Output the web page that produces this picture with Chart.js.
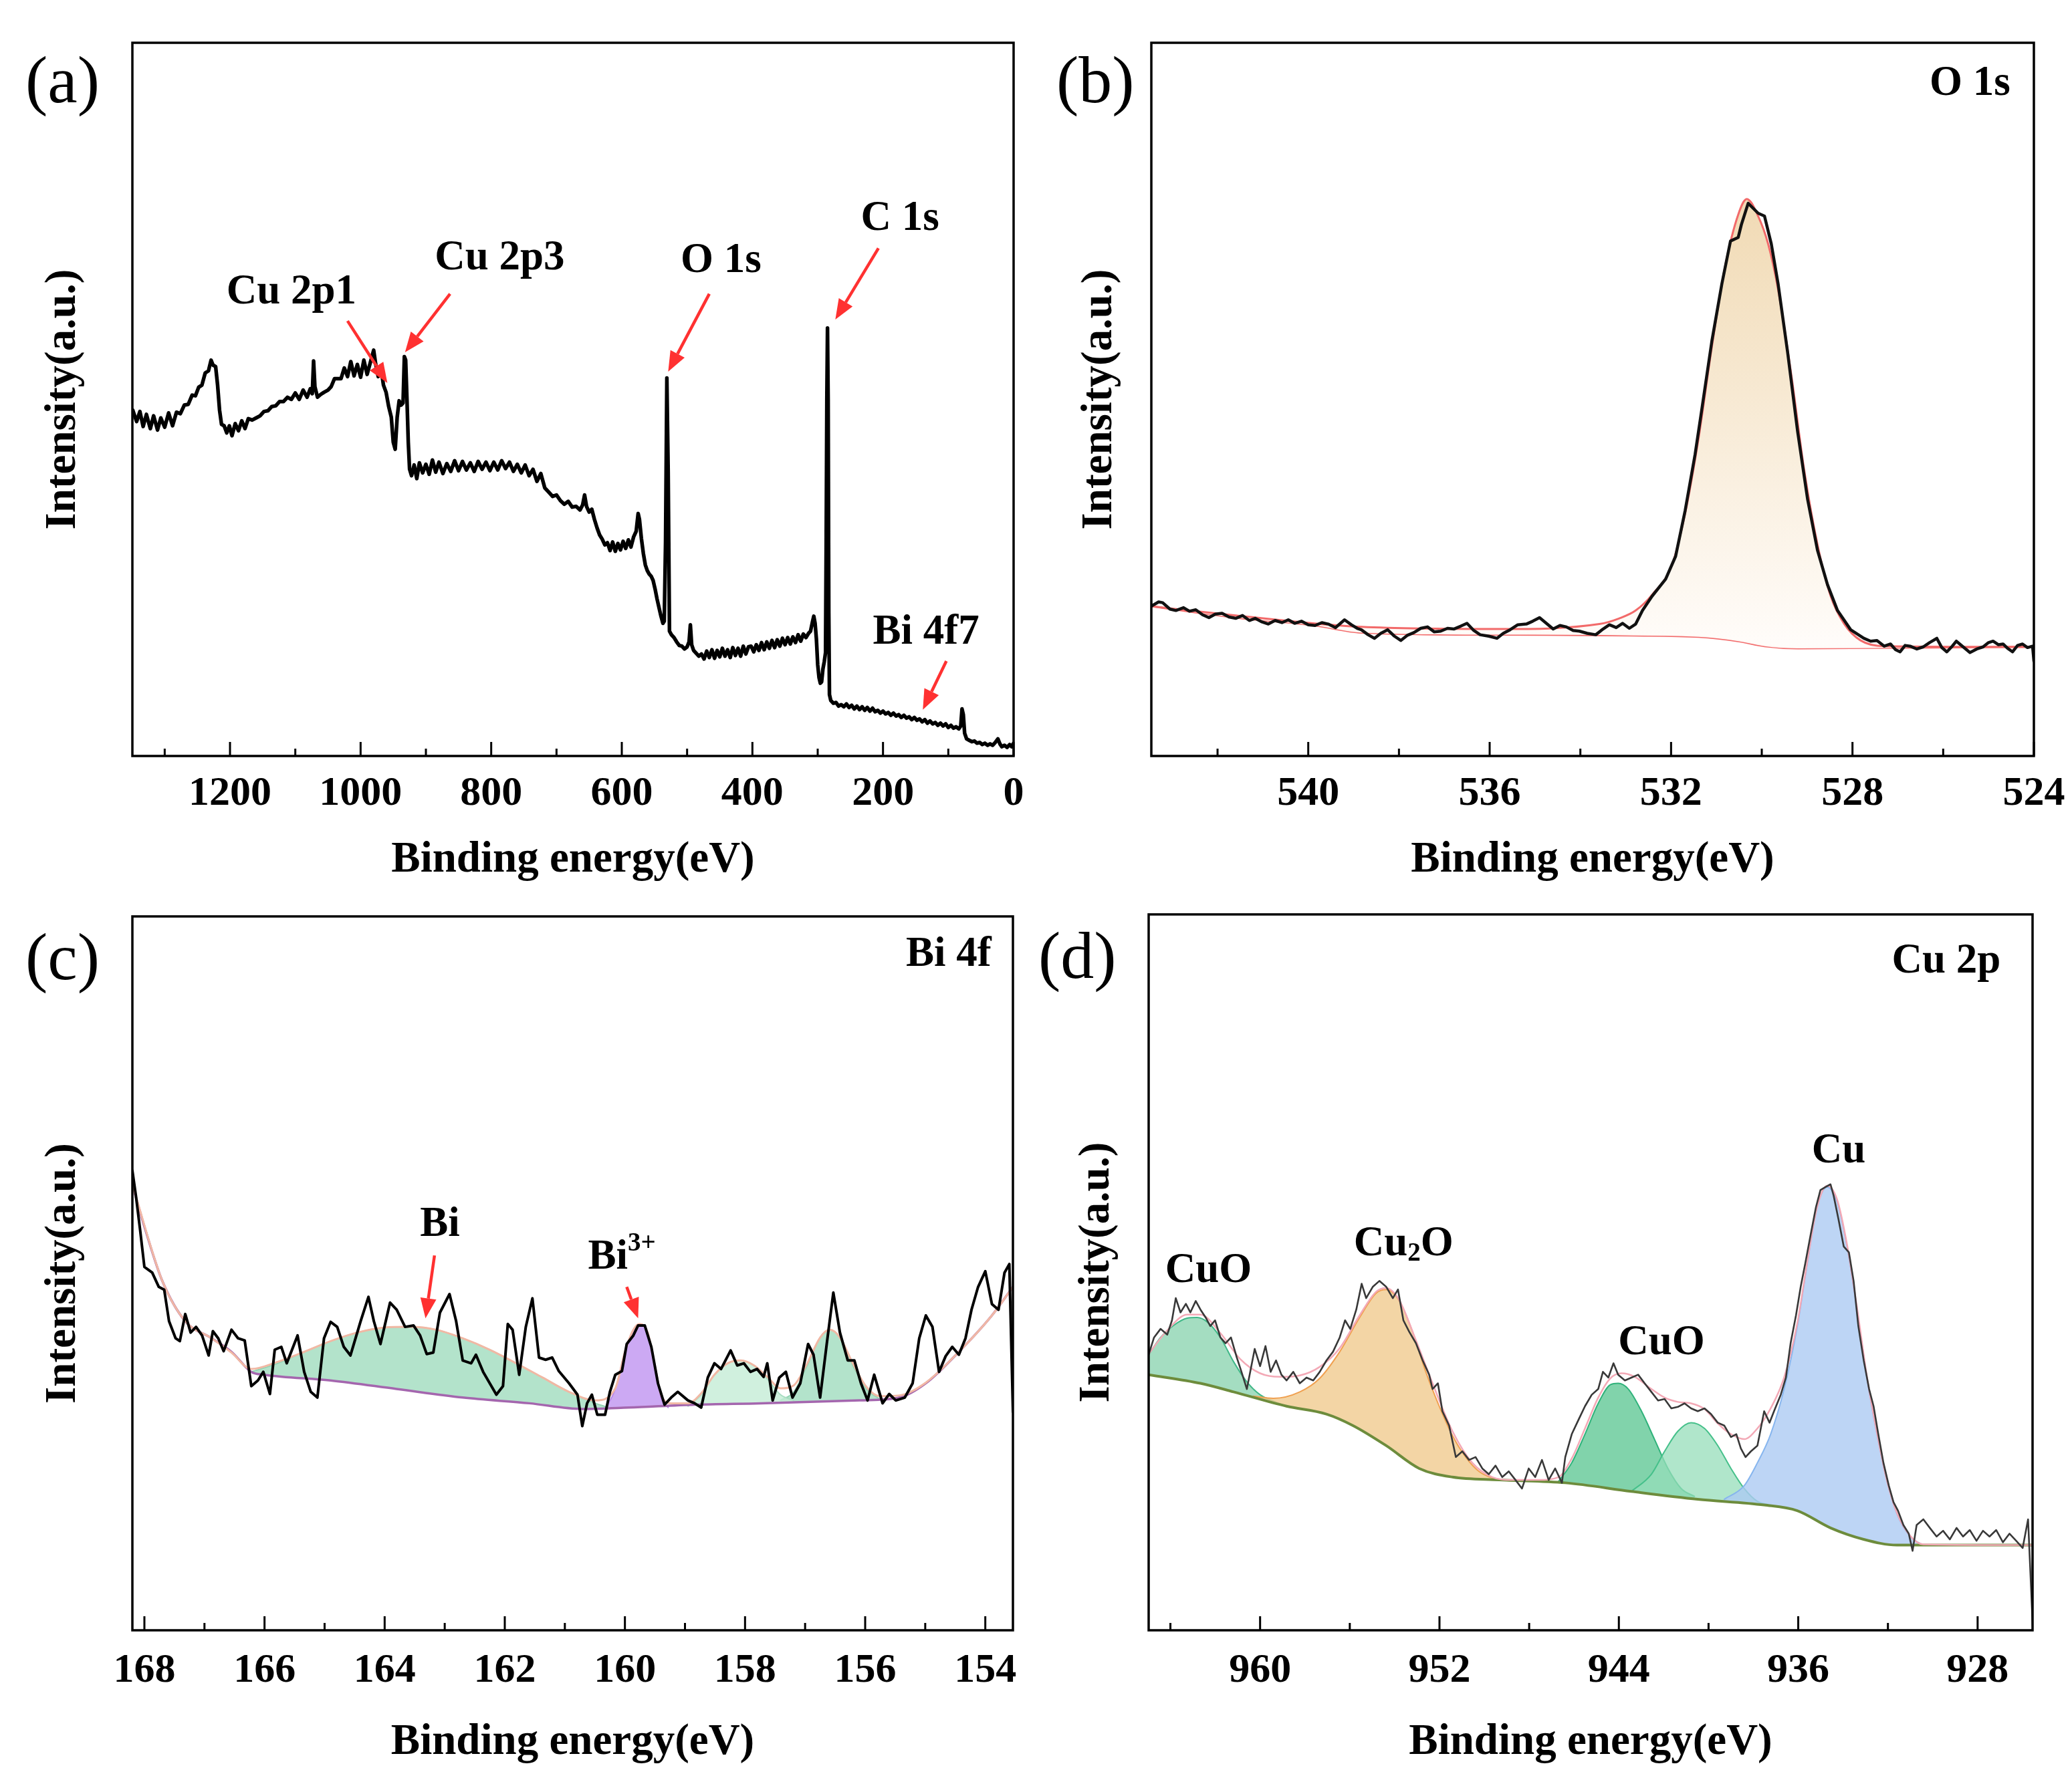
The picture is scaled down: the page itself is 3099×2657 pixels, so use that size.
<!DOCTYPE html>
<html>
<head>
<meta charset="utf-8">
<script src="https://cdn.jsdelivr.net/npm/chart.js@4.4.1/dist/chart.umd.min.js"></script>
<style>
  body { margin: 0; background: #fff; }
  #fig { position: relative; width: 3099px; height: 2657px; background: #fff; }
  .panel { position: absolute; }
  .tag { position: absolute; font: 100px/100px 'Liberation Serif', 'Times New Roman', serif; color: #000; }
</style>
</head>
<body>
<div id="fig">
  <div class="panel" style="left:50px;top:0;width:1499px;height:1330px"><canvas id="chartA"></canvas></div>
  <div class="panel" style="left:1600px;top:0;width:1499px;height:1330px"><canvas id="chartB"></canvas></div>
  <div class="panel" style="left:50px;top:1330px;width:1499px;height:1327px"><canvas id="chartC"></canvas></div>
  <div class="panel" style="left:1596px;top:1330px;width:1503px;height:1327px"><canvas id="chartD"></canvas></div>
  <div class="tag" style="left:38px;top:70px">(a)</div>
  <div class="tag" style="left:1580px;top:70px">(b)</div>
  <div class="tag" style="left:38px;top:1382px">(c)</div>
  <div class="tag" style="left:1553px;top:1380px">(d)</div>
</div>
<script>
// ---- (a) survey spectrum ----
const surveyEnergy = [1349,1343,1338,1333,1328,1322,1317,1311,1306,1300,1294,1288,1282,1276,1270,1264,1258,1253,1248,1243,1238,1233,1229,1226,1222,1219,1216,1213,1209,1205,1201,1197,1192,1187,1182,1177,1172,1166,1160,1154,1148,1142,1136,1130,1124,1118,1112,1106,1100,1094,1088,1082,1077,1074,1072,1070,1066,1061,1056,1050,1045,1040,1035,1030,1025,1020,1015,1010,1005,1000,995,990,985,980,977,973,969,965,961,957,953,950,947,944,941,938,935,933,931,929,927,925,922,918,914,910,905,900,895,890,885,880,874,868,862,856,850,844,838,832,826,820,814,808,802,796,790,784,778,772,766,760,754,748,742,736,730,724,718,712,706,700,694,688,682,676,670,664,660,657,654,650,646,642,638,634,630,626,622,618,614,610,606,602,598,594,590,586,582,578,575,573,570,567,564,561,558,555,552,549,546,543,540,537,535,533,531,529,527,524,520,516,512,508,504,500,497,495,493,490,486,482,478,474,470,466,462,458,454,450,446,442,438,434,430,426,422,418,414,410,406,402,398,394,390,386,382,378,374,370,366,362,358,354,350,346,342,338,334,330,326,322,318,314,311,308,306,304,302,300,298,296,294,292,290,288,287,286,285,284,283,282,280,276,272,268,264,260,256,252,248,244,240,236,232,228,224,220,216,212,208,204,200,196,192,188,184,180,176,172,168,164,160,156,152,148,144,140,136,132,128,124,120,116,112,108,104,100,96,92,88,84,81,79,77,75,72,68,64,60,56,52,48,44,40,36,32,28,24,21,18,14,10,6,3,0];
const surveyIntensity = [48.5,46.9,48.3,46.2,47.9,45.9,47.7,45.7,47.4,46.1,48.1,46.3,48.2,48.0,49.2,49.3,50.6,50.5,51.7,52.0,53.7,54.0,55.5,54.8,54.6,52.0,48.5,46.5,46.3,45.3,46.3,44.9,46.6,45.6,47.0,45.9,47.3,47.1,47.4,47.7,48.3,48.4,49.0,49.1,49.7,49.7,50.3,50.0,50.9,50.0,51.3,50.3,51.5,50.8,55.4,51.8,50.3,50.7,51.0,51.3,51.8,52.9,52.9,52.9,54.4,53.2,55.3,53.3,54.9,53.1,55.5,53.5,55.2,56.9,55.0,53.2,54.5,52.0,51.0,49.0,47.5,44.0,43.0,47.5,49.8,49.2,49.5,56.0,55.5,50.0,44.0,40.2,39.3,40.8,38.9,41.1,39.7,40.9,39.5,41.5,39.8,41.2,39.6,41.0,39.9,41.4,40.0,41.3,40.1,41.1,39.9,41.3,40.2,41.2,40.0,41.2,40.1,41.4,40.3,41.2,39.9,40.9,39.7,40.8,39.3,40.2,38.5,39.6,37.6,37.0,36.4,36.6,35.8,35.3,35.7,34.9,35.0,34.5,35.2,36.6,35.0,34.2,34.6,33.2,32.0,31.0,30.4,29.6,29.9,28.8,30.0,28.7,29.8,28.9,30.1,29.1,30.3,29.3,30.7,31.5,34.0,33.2,30.5,28.4,26.8,26.0,25.5,25.2,24.6,23.4,22.0,20.8,19.6,18.6,18.9,30.0,53.0,40.0,17.5,17.0,16.6,16.0,15.5,15.4,15.0,15.3,16.0,18.4,15.6,14.8,14.4,14.0,14.3,13.6,14.7,13.8,14.9,13.7,14.8,13.9,15.1,14.0,14.9,13.8,15.2,14.1,15.1,14.0,15.4,14.3,15.3,15.4,14.6,15.6,14.8,15.9,14.9,16.0,15.1,16.2,15.2,16.3,15.4,16.5,15.6,16.6,15.7,16.7,15.9,17.0,16.1,17.1,16.6,17.2,17.5,18.8,19.6,18.6,16.4,12.8,11.0,10.2,10.4,12.2,13.2,14.5,30.0,50.0,60.0,50.0,20.0,8.6,7.8,7.4,7.5,7.0,7.2,6.9,7.3,6.8,7.1,6.6,7.0,6.5,6.9,6.4,6.8,6.3,6.7,6.2,6.4,6.0,6.3,5.9,6.1,5.7,6.0,5.6,5.8,5.4,5.7,5.3,5.5,5.1,5.4,5.0,5.2,4.8,5.1,4.6,4.9,4.5,4.7,4.3,4.6,4.2,4.5,4.0,4.3,3.9,4.1,3.8,4.2,6.6,5.8,3.2,2.4,2.2,2.0,2.1,1.8,1.9,1.6,1.8,1.5,1.7,1.5,1.9,2.4,1.7,1.3,1.5,1.2,1.6,1.3,1.8];
const surveyTicks = [0, 200, 400, 600, 800, 1000, 1200];
const surveyMinor = [100, 300, 500, 700, 900, 1100, 1300];

// ---- (b) O 1s ----
const o1sEnergy = [543.46,543.30,543.21,543.05,542.92,542.75,542.62,542.48,542.33,542.19,542.05,541.90,541.75,541.60,541.45,541.30,541.17,541.02,540.88,540.73,540.58,540.44,540.30,540.15,540.00,539.85,539.70,539.56,539.40,539.20,539.05,538.92,538.83,538.68,538.54,538.40,538.25,538.10,537.96,537.82,537.67,537.52,537.37,537.22,537.08,536.93,536.79,536.64,536.50,536.35,536.21,536.02,535.84,535.70,535.55,535.38,535.19,535.05,534.90,534.75,534.60,534.45,534.31,534.16,534.02,533.85,533.66,533.50,533.36,533.21,533.07,532.92,532.78,532.63,532.42,532.12,531.90,531.69,531.47,531.32,531.10,530.88,530.69,530.52,530.45,530.30,530.08,529.94,529.79,529.64,529.43,529.21,528.99,528.77,528.55,528.33,528.04,527.75,527.60,527.46,527.30,527.16,527.05,526.95,526.84,526.73,526.58,526.44,526.30,526.14,526.03,525.92,525.80,525.71,525.56,525.41,525.26,525.12,525.00,524.90,524.78,524.68,524.58,524.47,524.36,524.25,524.14,524.03,524.00];
const o1sIntensity = [21.0,21.6,21.5,20.6,20.4,20.8,20.3,20.5,19.8,19.4,19.9,20.0,19.5,19.3,19.7,19.0,19.3,18.8,18.5,19.0,18.7,19.1,18.6,18.9,18.4,18.3,18.7,18.5,18.0,19.1,18.4,17.9,17.7,17.0,16.5,17.2,17.7,16.8,16.2,16.9,17.3,17.9,18.1,17.4,17.5,17.9,17.8,18.2,18.6,17.6,17.0,16.8,16.5,17.2,17.7,18.4,18.5,18.9,19.4,18.6,17.8,18.3,18.1,17.6,17.5,17.2,17.0,17.8,18.4,18.0,18.6,17.9,18.5,20.4,22.4,24.8,28.0,34.4,42.3,48.7,58.2,66.2,72.2,72.7,74.5,77.5,76.1,75.7,71.8,66.2,56.6,45.5,36.0,28.8,24.0,20.4,17.7,16.5,16.1,16.2,15.4,15.7,14.9,14.6,15.5,15.4,15.0,15.3,15.9,16.5,15.2,14.6,15.4,16.1,15.3,14.5,15.0,15.3,15.9,16.1,15.6,15.7,15.1,14.6,15.5,15.7,15.2,15.4,13.3];
const o1sFitEnergy = [543.46,541.60,538.83,535.77,533.58,533.14,532.78,532.42,531.98,531.69,531.39,531.10,530.81,530.52,530.33,530.08,529.86,529.64,529.35,529.06,528.77,528.48,528.18,527.82,527.31,524.00];
const o1sFitIntensity = [21.0,19.7,18.1,17.8,18.5,19.3,20.4,22.6,26.8,34.0,44.7,57.4,68.6,75.9,78.1,75.7,71.8,65.4,53.5,39.9,29.6,22.4,18.5,16.2,15.4,15.3];
const o1sBgEnergy = [543.46,541.60,539.85,538.83,535.77,532.85,531.39,530.52,529.94,529.21,524.00];
const o1sBgIntensity = [21.0,19.4,18.3,17.3,17.0,16.9,16.7,16.1,15.4,15.1,15.3];
const o1sTicks = [524, 528, 532, 536, 540];
const o1sMinor = [526, 530, 534, 538, 542];

// ---- (c) Bi 4f ----
const bi4fEnergy = [168.20,168.14,168.07,168.00,167.87,167.76,167.67,167.59,167.48,167.41,167.32,167.23,167.14,167.04,166.93,166.86,166.77,166.68,166.55,166.44,166.33,166.22,166.11,166.02,165.91,165.83,165.72,165.63,165.45,165.34,165.23,165.12,165.01,164.90,164.79,164.68,164.57,164.40,164.27,164.18,164.07,163.91,163.80,163.66,163.52,163.41,163.30,163.19,163.08,162.92,162.81,162.70,162.56,162.48,162.36,162.25,162.14,162.03,161.95,161.87,161.76,161.65,161.54,161.43,161.32,161.21,161.10,160.93,160.79,160.71,160.63,160.55,160.46,160.33,160.25,160.16,160.05,159.97,159.86,159.78,159.67,159.56,159.45,159.34,159.23,159.12,158.95,158.84,158.73,158.62,158.51,158.40,158.24,158.13,158.02,157.91,157.80,157.69,157.63,157.54,157.43,157.32,157.21,157.08,156.95,156.86,156.75,156.64,156.53,156.42,156.29,156.18,156.07,155.96,155.85,155.71,155.60,155.49,155.34,155.21,155.10,154.99,154.88,154.77,154.66,154.55,154.44,154.33,154.23,154.12,154.00,153.89,153.78,153.68,153.60,153.54];
const bi4fIntensity = [64.4,60.8,56.0,50.9,50.1,48.1,47.7,43.3,40.9,40.5,44.3,41.7,42.5,41.3,38.5,41.9,40.9,39.1,42.1,40.9,40.6,34.2,35.0,36.2,33.1,39.3,39.7,37.4,41.3,36.2,33.4,32.6,40.9,43.2,42.5,39.7,38.5,43.3,46.7,43.3,40.1,45.9,44.9,42.5,42.7,41.3,38.7,38.9,44.5,47.1,43.3,37.8,37.4,38.6,36.2,34.6,33.0,34.2,42.9,42.1,35.8,42.5,46.5,38.2,37.9,38.2,36.3,34.6,33.0,28.6,31.8,33.0,30.2,30.2,33.4,35.8,36.3,40.1,41.3,42.7,42.7,39.7,34.6,31.6,32.6,33.4,32.2,31.8,31.2,35.4,37.4,36.6,39.2,37.1,37.4,36.2,36.6,35.5,37.4,32.2,35.4,36.2,32.6,34.6,40.1,38.6,32.6,40.1,47.3,41.7,37.8,37.8,34.6,32.2,35.8,31.8,33.1,32.2,32.6,34.6,40.9,44.1,42.5,36.2,38.4,39.7,38.6,40.9,44.9,48.1,50.3,45.7,44.9,50.1,51.3,30.6];
const bi4fFitEnergy = [168.20,167.70,167.32,166.88,166.55,166.22,165.78,165.34,164.90,164.46,164.02,163.58,163.14,162.70,162.25,161.81,161.37,160.93,160.49,160.16,160.00,159.86,159.75,159.62,159.50,159.39,159.23,158.95,158.73,158.51,158.29,158.07,157.85,157.63,157.41,157.19,156.97,156.75,156.59,156.42,156.20,155.98,155.76,155.43,154.99,154.44,153.89,153.54];
const bi4fFitIntensity = [62.4,48.9,43.3,40.9,38.9,36.6,37.6,39.0,40.5,41.7,42.4,42.5,42.1,40.9,39.3,37.4,35.4,33.4,32.2,33.9,39.0,42.1,42.9,41.7,37.0,32.8,31.8,31.8,33.2,35.8,37.4,37.8,37.1,35.5,33.9,34.3,37.3,41.0,42.1,41.0,37.3,34.1,32.8,32.9,34.7,39.0,44.1,48.1];
const bi4fBgEnergy = [168.20,167.98,167.70,167.32,166.88,166.55,166.22,166.00,164.90,163.80,162.70,161.59,160.71,159.94,158.84,157.74,156.09,155.43,154.99,154.44,153.89,153.54];
const bi4fBgIntensity = [62.4,56.0,48.9,43.3,40.9,39.0,36.2,35.8,35.0,33.8,32.6,31.8,31.0,31.2,31.6,31.8,32.2,32.6,34.6,39.0,44.1,48.1];
const biMetalEnergy = [166.22,165.78,165.34,164.90,164.46,164.02,163.58,163.14,162.70,162.25,161.81,161.37,160.93,160.49,160.27];
const biMetalIntensity = [36.2,37.4,39.0,40.5,41.7,42.4,42.5,42.1,40.9,39.3,37.4,35.4,33.4,31.8,31.2];
const bi3Energy = [160.33,160.16,160.00,159.86,159.75,159.62,159.50,159.40,159.28];
const bi3Intensity = [31.0,33.8,39.0,42.1,42.9,41.7,37.0,32.6,31.2];
const biSideAEnergy = [158.95,158.73,158.51,158.29,158.08,157.86,157.63,157.41,157.19];
const biSideAIntensity = [31.4,33.0,35.8,37.4,37.8,37.1,35.2,33.0,32.2];
const biSideBEnergy = [157.41,157.19,156.97,156.75,156.59,156.42,156.20,155.98,155.76];
const biSideBIntensity = [32.2,33.4,37.0,41.0,42.1,41.0,37.0,33.8,32.4];
const bi4fTicks = [154, 156, 158, 160, 162, 164, 166, 168];
const bi4fMinor = [155, 157, 159, 161, 163, 165, 167];

// ---- (d) Cu 2p ----
const cu2pEnergy = [964.97,964.73,964.44,964.14,963.93,963.76,963.55,963.31,963.11,962.87,962.66,962.43,962.22,962.01,961.77,961.54,961.30,961.04,960.83,960.59,960.44,960.24,960.00,959.76,959.53,959.29,959.05,958.82,958.52,958.23,957.93,957.63,957.34,957.04,956.75,956.45,956.21,955.98,955.71,955.47,955.27,954.97,954.68,954.38,954.08,953.85,953.61,953.35,953.05,952.75,952.46,952.31,952.07,951.87,951.57,951.27,950.98,950.68,950.39,950.09,949.80,949.50,949.20,948.91,948.61,948.32,948.02,947.73,947.43,947.13,946.84,946.54,946.39,946.10,945.80,945.51,945.21,944.92,944.71,944.47,944.24,944.03,943.73,943.44,943.14,942.85,942.55,942.25,941.96,941.66,941.37,941.07,940.78,940.48,940.18,939.89,939.59,939.30,939.00,938.76,938.56,938.35,938.11,937.82,937.52,937.28,937.08,936.78,936.55,936.34,936.10,935.89,935.69,935.45,935.21,935.01,934.80,934.56,934.42,934.21,933.97,933.74,933.53,933.32,933.08,932.84,932.64,932.43,932.20,931.96,931.75,931.55,931.31,931.07,930.90,930.72,930.42,930.13,929.83,929.54,929.24,928.94,928.65,928.35,928.05,927.76,927.47,927.17,926.87,926.58,926.28,925.99,925.75,925.54];
const cu2pIntensity = [38.5,40.9,42.1,41.3,43.3,46.4,44.4,45.6,44.4,46.0,44.8,43.7,42.5,43.3,40.9,40.1,40.9,38.1,36.1,33.7,36.1,39.3,36.9,39.7,36.1,37.7,35.7,34.9,36.1,34.5,35.3,34.9,36.1,37.7,38.9,40.9,43.3,42.1,44.8,48.4,46.4,48.0,48.8,48.0,46.4,47.6,43.3,41.7,40.1,37.7,35.7,33.7,34.5,30.6,28.6,24.2,25.0,23.8,24.2,22.6,21.8,23.0,21.4,22.2,21.0,19.8,22.6,21.4,23.8,21.0,22.6,20.6,24.2,27.4,29.4,31.3,32.9,33.7,36.1,35.3,37.3,35.7,34.9,35.3,35.7,34.5,33.3,32.1,32.3,31.0,31.2,31.7,31.0,30.6,31.0,30.2,29.0,28.6,27.0,27.4,25.4,24.2,25.0,25.8,30.6,29.0,30.6,32.9,35.3,40.1,44.0,48.0,51.2,55.2,59.1,61.5,61.9,62.3,60.7,57.5,53.6,52.8,48.8,42.5,37.7,33.7,31.3,27.4,23.4,20.2,17.9,16.7,14.7,13.5,11.1,14.7,15.5,14.3,13.1,13.9,12.7,14.3,13.1,14.0,12.5,13.9,13.1,14.0,12.3,13.5,12.5,11.5,15.5,0.4];
const cu2pFitEnergy = [964.97,964.14,963.25,962.66,961.77,960.89,960.00,959.11,958.23,957.34,956.45,955.56,954.82,954.38,953.79,953.05,952.31,951.42,950.54,949.65,948.76,947.58,946.69,946.10,945.51,944.92,944.38,943.88,943.29,942.55,941.96,941.37,940.78,940.18,939.59,939.00,938.41,937.82,937.23,936.63,936.04,935.60,935.16,934.71,934.27,933.82,933.38,932.94,932.49,932.05,931.60,931.01,930.42,925.54];
const cu2pFitIntensity = [38.6,41.9,44.1,44.1,41.5,37.9,35.9,35.4,35.6,36.8,39.4,44.0,47.3,47.8,46.1,40.5,34.5,27.8,23.4,21.4,21.0,21.0,21.4,24.0,28.2,32.5,35.2,35.9,35.4,33.7,32.5,31.9,31.7,30.9,28.9,27.4,26.7,28.2,31.0,35.3,42.9,51.4,59.1,62.1,60.2,53.8,45.1,35.5,27.6,21.0,16.4,13.2,12.0,11.9];
const cu2pBgEnergy = [964.97,962.66,961.18,958.82,957.04,955.86,954.38,952.90,951.42,949.35,946.39,943.44,940.48,937.52,936.04,934.56,933.08,931.60,925.54];
const cu2pBgIntensity = [35.7,34.5,33.3,31.3,30.2,28.6,25.8,22.6,21.4,21.0,20.6,19.4,18.3,17.5,16.7,14.3,12.7,11.9,11.9];
const cuoHighEnergy = [964.97,964.44,963.85,963.25,962.81,962.37,961.77,961.18,960.59,960.00,959.41,958.82];
const cuoHighIntensity = [38.5,40.9,42.6,43.6,43.7,43.1,40.9,37.5,34.7,32.9,32.0,31.3];
const cu2oEnergy = [960.30,959.41,958.23,957.34,956.45,955.56,954.82,954.38,953.79,953.20,952.61,952.01,951.42,950.83,950.24,949.65,949.06];
const cu2oIntensity = [32.7,32.4,33.3,35.2,38.9,43.7,47.1,47.6,46.0,41.7,36.1,31.3,27.2,24.2,22.2,21.3,21.0];
const cuoSatAEnergy = [946.69,946.10,945.51,944.92,944.38,944.03,943.58,942.99,942.40,941.81,941.22,940.63];
const cuoSatAIntensity = [20.8,23.4,27.4,31.7,34.3,34.5,33.7,30.6,26.6,22.6,19.8,18.7];
const cuoSatBEnergy = [943.44,942.55,941.96,941.37,940.78,940.18,939.59,939.00,938.41,937.82,937.23];
const cuoSatBIntensity = [19.4,21.8,25.0,27.8,29.0,28.2,25.8,22.6,19.8,18.0,17.5];
const cuMetalEnergy = [939.30,938.41,937.82,937.23,936.63,936.04,935.60,935.16,934.71,934.27,933.82,933.38,932.94,932.49,932.05,931.60,931.01,930.42];
const cuMetalIntensity = [18.3,20.2,23.4,27.4,33.7,42.5,51.2,59.1,61.9,59.9,53.6,44.8,35.3,27.4,21.0,16.3,13.1,11.9];
const cu2pTicks = [928, 936, 944, 952, 960];
const cu2pMinor = [932, 940, 948, 956, 964];

const serif = "'Liberation Serif', 'Times New Roman', serif";
const tickFont = { family: serif, size: 62, weight: 'bold' };
const titleFont = { family: serif, size: 65, weight: 'bold' };

function pts(xs, ys) {
  return xs.map((v, i) => ({ x: v, y: ys[i] }));
}

function drawParts(ctx, parts, cx, cy, size) {
  const pieces = parts.map(([t, kind]) => {
    const s = kind ? size * 0.62 : size;
    ctx.font = `bold ${s}px ${serif}`;
    return { t, s, kind, w: ctx.measureText(t).width };
  });
  const total = pieces.reduce((a, p) => a + p.w, 0);
  let x = cx - total / 2;
  pieces.forEach(p => {
    ctx.font = `bold ${p.s}px ${serif}`;
    let dy = 0;
    if (p.kind === 'sub') dy = size * 0.22;
    if (p.kind === 'sup') dy = -size * 0.32;
    ctx.fillText(p.t, x, cy + dy);
    x += p.w;
  });
}

const xpsDecor = {
  id: 'xpsDecor',
  afterDatasetsDraw(chart, args, opts) {
    const { ctx, chartArea: a, scales: { x, y } } = chart;
    ctx.save();
    ctx.strokeStyle = '#000';
    ctx.lineWidth = 3.5;
    ctx.strokeRect(a.left, a.top, a.right - a.left, a.bottom - a.top);
    ctx.lineWidth = 3;
    ctx.beginPath();
    x.ticks.forEach(t => {
      const px = x.getPixelForValue(t.value);
      ctx.moveTo(px, a.bottom); ctx.lineTo(px, a.bottom - 21);
    });
    (opts.minor || []).forEach(v => {
      const px = x.getPixelForValue(v);
      ctx.moveTo(px, a.bottom); ctx.lineTo(px, a.bottom - 11);
    });
    ctx.stroke();

    ctx.fillStyle = '#000';
    ctx.textBaseline = 'middle';
    ctx.textAlign = 'left';
    (opts.labels || []).forEach(l => {
      drawParts(ctx, l.parts, x.getPixelForValue(l.x), y.getPixelForValue(l.y), 63);
    });

    ctx.strokeStyle = '#ff3131';
    ctx.fillStyle = '#ff3131';
    ctx.lineWidth = 4.5;
    (opts.arrows || []).forEach(([x1, y1, x2, y2]) => {
      const ax = x.getPixelForValue(x1), ay = y.getPixelForValue(y1);
      const bx = x.getPixelForValue(x2), by = y.getPixelForValue(y2);
      const ang = Math.atan2(by - ay, bx - ax);
      const hl = 30, hw = 12;
      const sx = bx - hl * Math.cos(ang), sy = by - hl * Math.sin(ang);
      ctx.beginPath(); ctx.moveTo(ax, ay); ctx.lineTo(sx, sy); ctx.stroke();
      ctx.beginPath();
      ctx.moveTo(bx, by);
      ctx.lineTo(sx + hw * Math.sin(ang), sy - hw * Math.cos(ang));
      ctx.lineTo(sx - hw * Math.sin(ang), sy + hw * Math.cos(ang));
      ctx.closePath(); ctx.fill();
    });
    ctx.restore();
  }
};

function makePanel(id, p) {
  return new Chart(document.getElementById(id), {
    type: 'line',
    data: { datasets: p.datasets },
    plugins: [xpsDecor],
    options: {
      responsive: true,
      maintainAspectRatio: false,
      animation: false,
      devicePixelRatio: 1,
      layout: { padding: { top: p.top, right: p.right, left: 0, bottom: 0 } },
      elements: { point: { radius: 0 }, line: { borderJoinStyle: 'round', borderCapStyle: 'round' } },
      plugins: {
        legend: { display: false },
        tooltip: { enabled: false },
        xpsDecor: { minor: p.minor, labels: p.labels, arrows: p.arrows }
      },
      scales: {
        x: {
          type: 'linear', reverse: true, min: p.min, max: p.max,
          grid: { display: false }, border: { display: false },
          afterBuildTicks: s => { s.ticks = p.ticks.map(v => ({ value: v })); },
          afterFit: s => { s.height = p.xh; },
          ticks: { font: tickFont, color: '#000', padding: p.tickPad, maxRotation: 0, autoSkip: false, callback: v => String(v) },
          title: { display: true, text: 'Binding energy(eV)', font: titleFont, color: '#000', padding: { top: 0, bottom: p.titlePad } }
        },
        y: {
          min: 0, max: 100,
          grid: { display: false }, border: { display: false },
          ticks: { display: false },
          afterFit: s => { s.width = p.yw; },
          title: { display: true, text: 'Intensity(a.u.)', font: titleFont, color: '#000', padding: { top: 6, bottom: 0 } }
        }
      }
    }
  });
}

const smooth = { cubicInterpolationMode: 'monotone', pointRadius: 0 };

makePanel('chartA', {
  min: 0, max: 1349.5, ticks: surveyTicks, minor: surveyMinor,
  top: 64, right: 33, yw: 148, xh: 199, tickPad: 12, titlePad: 4,
  datasets: [
    { data: pts(surveyEnergy, surveyIntensity), borderColor: '#000', borderWidth: 5.5, fill: false }
  ],
  labels: [
    { parts: [['Cu 2p1']], x: 1106, y: 65.0 },
    { parts: [['Cu 2p3']], x: 787, y: 69.8 },
    { parts: [['O 1s']], x: 448, y: 69.4 },
    { parts: [['C 1s']], x: 174, y: 75.3 },
    { parts: [['Bi 4f7']], x: 134, y: 17.3 }
  ],
  arrows: [
    [1020, 61.0, 959, 52.3],
    [863, 64.8, 932, 56.6],
    [466, 64.8, 529, 53.9],
    [207, 71.2, 273, 61.2],
    [103, 13.3, 139, 6.5]
  ]
});

makePanel('chartB', {
  min: 524, max: 543.46, ticks: o1sTicks, minor: o1sMinor,
  top: 64, right: 57, yw: 122, xh: 199, tickPad: 12, titlePad: 4,
  datasets: [
    { data: pts(o1sEnergy, o1sIntensity), borderColor: '#111', borderWidth: 4.5, fill: false },
    {
      data: pts(o1sFitEnergy, o1sFitIntensity), borderColor: '#f26a6a', borderWidth: 3, ...smooth,
      fill: 2,
      backgroundColor: c => {
        const ch = c.chart;
        if (!ch.chartArea) return 'rgba(240,220,185,0.8)';
        const g = ch.ctx.createLinearGradient(0, ch.scales.y.getPixelForValue(78), 0, ch.scales.y.getPixelForValue(16));
        g.addColorStop(0, 'rgba(240,216,176,0.95)');
        g.addColorStop(1, 'rgba(255,252,249,0.95)');
        return g;
      }
    },
    { data: pts(o1sBgEnergy, o1sBgIntensity), borderColor: '#f26a6a', borderWidth: 3, ...smooth, fill: false }
  ],
  labels: [{ parts: [['O 1s']], x: 525.41, y: 94.2 }],
  arrows: []
});

makePanel('chartC', {
  min: 153.54, max: 168.2, ticks: bi4fTicks, minor: bi4fMinor,
  top: 41, right: 34, yw: 148, xh: 218, tickPad: 16, titlePad: 11,
  datasets: [
    { data: pts(bi4fEnergy, bi4fIntensity), borderColor: '#000', borderWidth: 4, fill: false },
    { data: pts(bi4fFitEnergy, bi4fFitIntensity), borderColor: '#f1b8a4', borderWidth: 3, ...smooth, fill: false },
    { data: pts(bi4fBgEnergy, bi4fBgIntensity), borderColor: '#a466ae', borderWidth: 3.5, ...smooth, fill: false },
    { data: pts(bi3Energy, bi3Intensity), borderColor: '#b687e6', borderWidth: 2, ...smooth, fill: 2, backgroundColor: 'rgba(198,160,242,0.9)' },
    { data: pts(biMetalEnergy, biMetalIntensity), borderColor: '#93d3b3', borderWidth: 2, ...smooth, fill: 2, backgroundColor: 'rgba(160,220,190,0.8)' },
    { data: pts(biSideAEnergy, biSideAIntensity), borderColor: '#a9ddc2', borderWidth: 2, ...smooth, fill: 2, backgroundColor: 'rgba(196,236,214,0.8)' },
    { data: pts(biSideBEnergy, biSideBIntensity), borderColor: '#93d3b3', borderWidth: 2, ...smooth, fill: 2, backgroundColor: 'rgba(160,220,190,0.8)' }
  ],
  labels: [
    { parts: [['Bi 4f']], x: 154.61, y: 94.6 },
    { parts: [['Bi']], x: 163.08, y: 56.8 },
    { parts: [['Bi'], ['3+', 'sup']], x: 160.05, y: 52.2 }
  ],
  arrows: [
    [163.17, 52.5, 163.32, 43.7],
    [159.97, 48.1, 159.78, 43.7]
  ]
});

makePanel('chartD', {
  min: 925.55, max: 964.97, ticks: cu2pTicks, minor: cu2pMinor,
  top: 38, right: 59, yw: 122, xh: 218, tickPad: 16, titlePad: 11,
  datasets: [
    { data: pts(cu2pEnergy, cu2pIntensity), borderColor: '#383838', borderWidth: 2.6, fill: false },
    { data: pts(cu2pFitEnergy, cu2pFitIntensity), borderColor: '#f3a9b6', borderWidth: 2.5, ...smooth, fill: false },
    { data: pts(cu2pBgEnergy, cu2pBgIntensity), borderColor: '#6d8c3c', borderWidth: 4, ...smooth, fill: false },
    { data: pts(cuMetalEnergy, cuMetalIntensity), borderColor: '#86b5ee', borderWidth: 2, ...smooth, fill: 2, backgroundColor: 'rgba(172,202,242,0.8)' },
    { data: pts(cuoSatBEnergy, cuoSatBIntensity), borderColor: '#45c08a', borderWidth: 2, ...smooth, fill: 2, backgroundColor: 'rgba(150,222,186,0.75)' },
    { data: pts(cuoSatAEnergy, cuoSatAIntensity), borderColor: '#2fb27a', borderWidth: 2, ...smooth, fill: 2, backgroundColor: 'rgba(98,200,150,0.8)' },
    { data: pts(cu2oEnergy, cu2oIntensity), borderColor: '#f0a050', borderWidth: 2, ...smooth, fill: 2, backgroundColor: 'rgba(240,202,142,0.8)' },
    { data: pts(cuoHighEnergy, cuoHighIntensity), borderColor: '#40b888', borderWidth: 2, ...smooth, fill: 2, backgroundColor: 'rgba(134,210,172,0.75)' }
  ],
  labels: [
    { parts: [['Cu 2p']], x: 929.4, y: 93.4 },
    { parts: [['CuO']], x: 962.3, y: 50.2 },
    { parts: [['Cu'], ['2', 'sub'], ['O']], x: 953.6, y: 53.9 },
    { parts: [['CuO']], x: 942.1, y: 40.1 },
    { parts: [['Cu']], x: 934.2, y: 66.9 }
  ],
  arrows: []
});
</script>
</body>
</html>
